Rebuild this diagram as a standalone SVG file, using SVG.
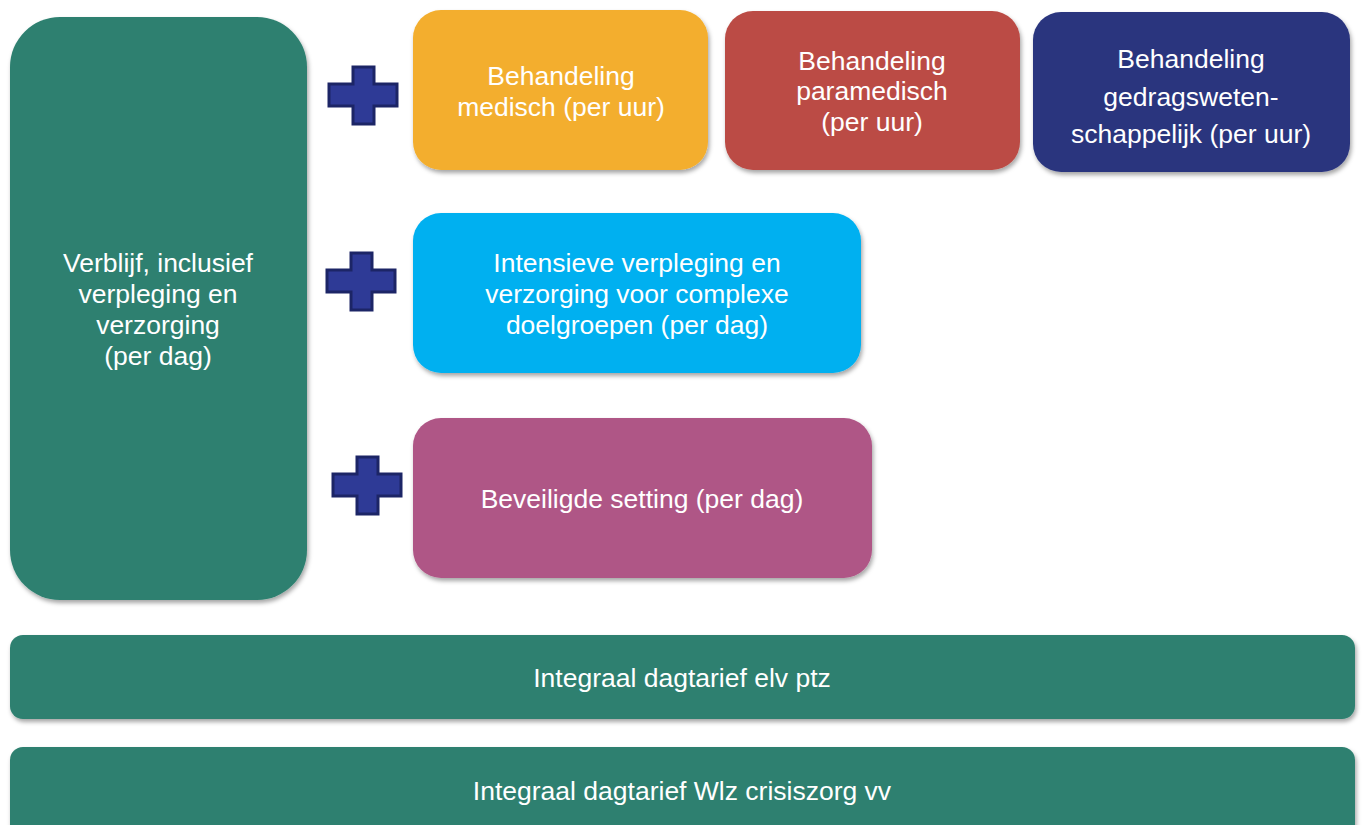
<svg xmlns="http://www.w3.org/2000/svg" width="1362" height="825" viewBox="0 0 1362 825">
<defs>
<filter id="sh" x="-10%" y="-10%" width="120%" height="130%">
<feDropShadow dx="1.5" dy="3" stdDeviation="2" flood-color="#000" flood-opacity="0.35"/>
</filter>
<path id="plus" d="M24,0 H45 V17 H68 V39 H45 V57 H24 V39 H0 V17 H24 Z"/>
</defs>
<style>
text{font-family:"Liberation Sans",Arial,sans-serif;font-size:26.5px;fill:#fff;text-anchor:middle}
.box{filter:url(#sh)}
.plus{fill:#2E3A96;stroke:#1C2566;stroke-width:3}
</style>
<rect width="1362" height="825" fill="#fff"/>
<g id="verblijf">
<rect class="box" x="10" y="17" width="297" height="583" rx="50" fill="#2E8070"/>
<text x="158" y="272">Verblijf, inclusief</text>
<text x="158" y="303">verpleging en</text>
<text x="158" y="334">verzorging</text>
<text x="158" y="365">(per dag)</text>
</g>
<g id="medisch">
<rect class="box" x="413" y="10" width="295" height="160" rx="28" fill="#F3AE2D"/>
<text x="561" y="85">Behandeling</text>
<text x="561" y="116">medisch (per uur)</text>
</g>
<g id="paramedisch">
<rect class="box" x="725" y="11" width="295" height="159" rx="28" fill="#BB4B45"/>
<text x="872" y="70">Behandeling</text>
<text x="872" y="100">paramedisch</text>
<text x="872" y="131">(per uur)</text>
</g>
<g id="gedrag">
<rect class="box" x="1033" y="12" width="317" height="160" rx="28" fill="#2B367E"/>
<text x="1191" y="68">Behandeling</text>
<text x="1191" y="106">gedragsweten-</text>
<text x="1191" y="143">schappelijk (per uur)</text>
</g>
<g id="intensief">
<rect class="box" x="413" y="213" width="448" height="160" rx="28" fill="#00B0F0"/>
<text x="637" y="272">Intensieve verpleging en</text>
<text x="637" y="303">verzorging voor complexe</text>
<text x="637" y="334">doelgroepen (per dag)</text>
</g>
<g id="beveiligd">
<rect class="box" x="413" y="418" width="459" height="160" rx="28" fill="#AF5686"/>
<text x="642" y="508">Beveiligde setting (per dag)</text>
</g>
<g id="elv">
<rect class="box" x="10" y="635" width="1345" height="84" rx="13" fill="#2E8070"/>
<text x="682" y="687">Integraal dagtarief elv ptz</text>
</g>
<g id="crisis">
<rect class="box" x="10" y="747" width="1345" height="100" rx="13" fill="#2E8070"/>
<text x="682" y="800">Integraal dagtarief Wlz crisiszorg vv</text>
</g>
<g id="connectors">
<use href="#plus" class="plus" x="329" y="67"/>
<use href="#plus" class="plus" x="327" y="253"/>
<use href="#plus" class="plus" x="333" y="457"/>
</g>
</svg>
